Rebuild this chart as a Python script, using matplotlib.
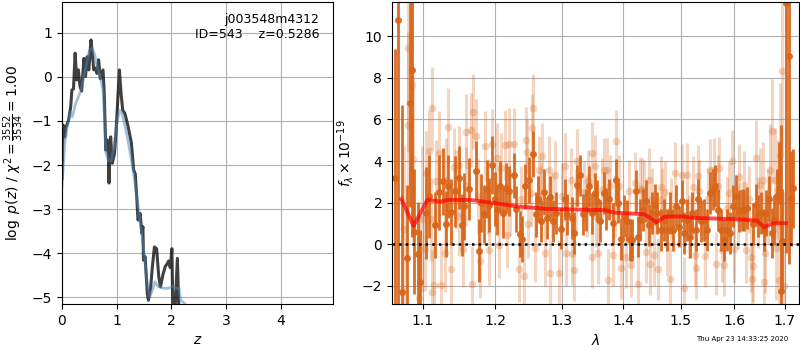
#!/usr/bin/env python3
# redshift fit summary: p(z) on the left, grism spectrum + model on the right
import time

import matplotlib
matplotlib.use("Agg")
import matplotlib.pyplot as plt
from matplotlib.ticker import FixedLocator, FixedFormatter, NullLocator

# ---------- p(z) ----------
z_fit = [0.0, 0.02, 0.05, 0.07, 0.12, 0.16, 0.18, 0.21, 0.24, 0.27, 0.30, 0.33, 0.36,
         0.40, 0.43, 0.46, 0.49, 0.53, 0.56, 0.58, 0.61, 0.64, 0.67, 0.70, 0.75, 0.77,
         0.79, 0.80, 0.83, 0.85, 0.86, 0.87, 0.89, 0.92, 0.96, 0.99, 1.05, 1.08, 1.11,
         1.15, 1.21, 1.27, 1.31, 1.34, 1.37, 1.39, 1.43, 1.46, 1.48, 1.49, 1.52, 1.56,
         1.58, 1.62, 1.65, 1.69, 1.73, 1.77, 1.80, 1.85, 1.89, 1.92, 1.95, 1.98, 2.01,
         2.03, 2.06, 2.11, 2.14]
logp_fit = [-2.3, -1.09, -1.36, -1.15, -0.98, -0.67, -0.30, -0.27, 0.54, -0.07, 0.16, -0.22,
            -0.32, 0.42, 0.01, 0.46, 0.16, 0.84, 0.46, 0.16, 0.20, 0.08, 0.39, -0.04, 0.16,
            -0.30, -1.13, -1.66, -1.43, -1.81, -2.41, -1.74, -1.36, -1.96, -1.74, -1.20,
            0.16, -0.37, -0.75, -0.83, -1.13, -1.51, -2.11, -2.20, -2.80, -3.25, -3.10,
            -3.55, -3.40, -4.16, -4.08, -4.92, -5.07, -4.80, -4.35, -3.86, -3.90, -4.54,
            -4.77, -4.47, -4.30, -4.25, -4.18, -4.33, -3.90, -5.4, -5.5, -4.12, -5.4]

z_prior = [0.0, 0.05, 0.10, 0.15, 0.19, 0.25, 0.30, 0.35, 0.40, 0.45, 0.50, 0.55, 0.60,
           0.65, 0.70, 0.75, 0.78, 0.80, 0.85, 0.90, 0.95, 1.00, 1.05, 1.10, 1.15, 1.20,
           1.30, 1.40, 1.50, 1.55, 1.60, 1.65, 1.70, 1.75, 1.86, 1.95, 2.02, 2.08, 2.14,
           2.17, 2.22, 2.28]
logp_prior = [-2.5, -1.5, -1.1, -0.8, -0.9, -0.6, -0.45, -0.3, 0.0, 0.3, 0.6, 0.65, 0.5,
              0.2, 0.0, -0.3, -1.0, -1.7, -1.9, -1.9, -1.6, -1.1, -0.75, -0.85, -1.1,
              -1.4, -2.1, -3.0, -4.0, -4.6, -5.0, -4.85, -4.65, -4.75, -4.8, -4.8, -4.75,
              -4.8, -4.8, -5.07, -5.12, -5.2]

# ---------- spectrum ----------
# light (low weight) beam
lam_lo = [1.0812, 1.0864, 1.0808, 1.0877, 1.0756, 1.1120, 1.1089, 1.1032, 1.1152, 1.1129,
          1.1241, 1.1210, 1.1301, 1.1345, 1.1377, 1.1422, 1.1489, 1.1548, 1.1588, 1.1658,
          1.1684, 1.1726, 1.1671, 1.1782, 1.1855, 1.1906, 1.1960, 1.2031, 1.2092, 1.2138,
          1.2201, 1.2274, 1.2053, 1.2178, 1.2346, 1.2424, 1.2447, 1.2471, 1.2567, 1.2551,
          1.2588, 1.2481, 1.2650, 1.2700, 1.2749, 1.2826, 1.2800, 1.2893, 1.2965, 1.3053,
          1.3061, 1.3159, 1.3143, 1.3201, 1.3236, 1.3350, 1.3419, 1.3482, 1.3525, 1.3480,
          1.3589, 1.3676, 1.3730, 1.3745, 1.3825, 1.3882, 1.3925, 1.3964, 1.4050, 1.4135,
          1.4191, 1.4252, 1.4293, 1.4350, 1.4381, 1.4437, 1.4449, 1.4524, 1.4598, 1.4642,
          1.4718, 1.4807, 1.4760, 1.4908, 1.5018, 1.5060, 1.5120, 1.5223, 1.5255, 1.5285,
          1.5321, 1.5445, 1.5545, 1.5610, 1.5653, 1.5716, 1.5762, 1.5811, 1.5860, 1.5950,
          1.6000, 1.6085, 1.6194, 1.6226, 1.6325, 1.6360, 1.6346, 1.6424, 1.6511, 1.6557,
          1.6577, 1.6610, 1.6704, 1.6744, 1.6804, 1.6824, 1.6892, 1.6912, 1.6953, 1.6981,
          1.3646, 1.3786, 1.3859, 1.4094, 1.4321, 1.4495, 1.4666, 1.4819, 1.5152, 1.5333,
          1.2222, 1.2376, 1.2527, 1.2677, 1.2856, 1.3012, 1.3221, 1.3405, 1.3544, 1.1040,
          1.1173, 1.1309, 1.1445, 1.1581, 1.1749, 1.1891, 1.1106, 1.1489, 1.5495, 1.5683,
          1.5905, 1.6065, 1.6291, 1.6458, 1.6658, 1.6858, 1.0950, 1.0990]
flux_lo = [9.42, 7.65, 5.71, 4.10, 0.74, 6.54, 4.47, -0.24, -1.97, -2.30,
           -1.97, 4.40, -0.40, 5.62, -1.20, 3.71, 3.79, -0.25, 5.41, 5.49,
           6.36, 5.20, -1.90, -0.80, 4.72, -0.28, 4.80, 4.15, 3.67, 4.77,
           4.84, 4.84, -0.03, 0.46, -1.19, -1.52, 4.99, 4.43, 6.57, 5.60,
           -0.20, 0.95, 3.59, 4.23, -0.43, -1.40, 3.59, 3.35, -1.40, 3.75,
           -0.43, -0.47, 3.11, -1.24, 4.02, 2.50, 3.03, 4.39, 3.75, -0.60,
           -0.40, 3.59, 3.59, -1.72, -0.52, 4.96, 2.79, -1.15, -0.60, -1.02,
           2.95, -1.92, 2.70, 2.55, -0.35, 3.11, -0.93, -0.53, -1.20, 2.75,
           2.50, -1.66, -0.03, 3.43, 3.31, -2.10, 3.35, 2.75, -0.53, -1.15,
           3.26, -0.57, 3.55, 3.59, -0.93, 3.67, -0.30, -1.00, 1.75, 3.99,
           -0.24, 3.23, 2.87, -0.27, -0.60, -1.07, -1.68, 4.15, 2.84, 3.11,
           -1.80, -0.43, 3.59, 5.44, 3.11, -0.20, -1.72, 4.23, 8.34, -2.00,
           2.63, 2.79, 1.83, 2.55, 2.63, 2.16, 2.16, 1.67, 0.85, 2.55,
           1.98, 2.16, 2.47, 2.31, 1.83, 2.31, 2.00, 1.83, 1.35, 3.43,
           3.03, 3.11, 2.63, 2.79, 2.31, 2.31, 1.19, 1.35, 2.16, 2.79,
           2.47, 1.35, 2.16, 1.51, 1.83, 2.63, -2.6, 1.2]
err_lo = [5.0, 4.5, 4.5, 4.0, 4.0, 2.0, 2.0, 2.0, 2.0, 2.0,
          2.0, 2.0, 1.9, 1.9, 1.9, 1.9, 1.9, 1.8, 1.8, 1.8,
          1.8, 1.8, 1.8, 1.8, 1.7, 1.7, 1.7, 1.7, 1.7, 1.7,
          1.7, 1.7, 1.6, 1.6, 1.6, 1.6, 1.6, 1.6, 1.6, 1.6,
          1.6, 1.6, 1.6, 1.6, 1.6, 1.6, 1.6, 1.6, 1.6, 1.6,
          1.6, 1.5, 1.5, 1.5, 1.5, 1.5, 1.5, 1.5, 1.5, 1.5,
          1.5, 1.5, 1.5, 1.5, 1.5, 1.5, 1.5, 1.5, 1.5, 1.5,
          1.5, 1.5, 1.5, 1.5, 1.5, 1.5, 1.5, 1.5, 1.5, 1.5,
          1.5, 1.5, 1.5, 1.5, 1.5, 1.5, 1.5, 1.5, 1.5, 1.5,
          1.5, 1.5, 1.5, 1.5, 1.5, 1.5, 1.5, 1.5, 1.5, 1.5,
          1.6, 1.6, 1.6, 1.6, 1.7, 1.7, 1.7, 1.8, 1.8, 1.8,
          1.8, 1.9, 2.2, 2.5, 2.5, 2.5, 3.0, 3.5, 4.0, 4.5,
          1.5, 1.5, 1.5, 1.5, 1.5, 1.5, 1.5, 1.5, 1.5, 1.5,
          1.6, 1.6, 1.6, 1.6, 1.6, 1.6, 1.6, 1.5, 1.5, 2.0,
          2.0, 2.0, 1.9, 1.9, 1.8, 1.8, 2.0, 1.9, 1.5, 1.5,
          1.5, 1.6, 1.6, 1.7, 1.8, 2.4, 4.0, 3.5]

# dark (best) beam
lam_hi = [1.0644, 1.0683, 1.0725, 1.0790, 1.0829, 1.0864, 1.0886, 1.0934, 1.0969, 1.1040,
          1.1076, 1.1165, 1.1220, 1.1264, 1.1309, 1.1336, 1.1377, 1.1438, 1.1483, 1.1529,
          1.1563, 1.1623, 1.1726, 1.1763, 1.1796, 1.1845, 1.1881, 1.1906, 1.1953, 1.2002,
          1.2031, 1.2065, 1.2113, 1.2163, 1.2201, 1.2274, 1.2310, 1.2364, 1.2389, 1.2439,
          1.2499, 1.2559, 1.2600, 1.2641, 1.2687, 1.2727, 1.2779, 1.2815, 1.2865, 1.2907,
          1.2985, 1.3053, 1.3091, 1.3159, 1.3201, 1.3249, 1.3286, 1.3339, 1.3382, 1.3435,
          1.3480, 1.3528, 1.3572, 1.3621, 1.3676, 1.3714, 1.3758, 1.3825, 1.3870, 1.3913,
          1.3964, 1.4009, 1.4065, 1.4110, 1.4150, 1.4218, 1.4252, 1.4293, 1.4339, 1.4381,
          1.4437, 1.4485, 1.4543, 1.4582, 1.4642, 1.4701, 1.4760, 1.4807, 1.4861, 1.4920,
          1.4970, 1.5018, 1.5066, 1.5120, 1.5164, 1.5211, 1.5274, 1.5321, 1.5372, 1.5421,
          1.5483, 1.5545, 1.5590, 1.5632, 1.5695, 1.5747, 1.5797, 1.5860, 1.5924, 1.5970,
          1.6033, 1.6097, 1.6144, 1.6194, 1.6248, 1.6360, 1.6424, 1.6470, 1.6524, 1.6577,
          1.6630, 1.6690, 1.6744, 1.6791, 1.6845, 1.6892, 1.6947, 1.6927, 1.7021, 1.7084,
          1.7125, 1.7174]
flux_hi = [3.20, 10.78, -2.29, -0.65, 6.78, 8.37, 0.61, -0.47, -1.80, 1.51,
           2.30, 0.93, 2.49, 3.02, 0.98, 2.78, 1.56, 2.54, 3.20, 0.93,
           1.82, 2.66, 3.54, -0.31, 2.00, 1.45, 2.67, 1.90, 3.80, 2.16,
           1.66, 2.78, 1.51, 2.70, 2.54, 3.31, 1.70, 0.50, 0.26, 2.78,
           3.10, 4.35, 1.43, 2.16, 1.11, 2.50, 1.27, 2.28, 1.11, 1.51,
           0.75, 2.16, 1.43, 1.27, 0.55, 2.83, 3.31, 1.43, 1.66, 2.78,
           1.48, 2.44, 2.07, 1.11, 2.47, 1.70, 2.16, 1.00, 3.10, 2.00,
           0.24, 1.35, 1.14, 0.21, 0.21, 2.55, 0.37, 1.17, 1.66, 2.07,
           0.93, 1.51, 1.91, 1.51, 0.69, 1.17, 0.69, 1.51, 0.69, 1.83,
           0.85, 2.07, 0.53, 1.17, 0.34, 1.51, 0.69, 2.16, 1.11, 1.17,
           0.69, 2.47, 2.63, 2.79, 1.66, 0.69, 0.21, 0.69, 0.53, 1.83,
           2.31, 1.59, 1.66, 1.66, 1.75, 0.98, 1.88, 1.35, 1.51, 0.69,
           1.51, 2.16, 0.53, 1.17, 2.31, 3.43, 0.14, -2.26, 11.60, 9.03,
           2.20, 2.70]
err_hi = [6.2, 14.0, 9.0, 3.5, 5.0, 8.0, 3.0, 2.5, 2.5, 2.2,
          2.0, 1.6, 1.8, 1.6, 1.6, 1.5, 1.6, 1.7, 1.5, 1.5,
          1.6, 1.5, 1.4, 1.5, 1.4, 1.4, 1.4, 1.3, 1.4, 1.3,
          1.2, 1.2, 1.2, 1.2, 1.2, 1.1, 1.1, 1.1, 1.1, 1.1,
          1.1, 1.1, 1.1, 1.1, 1.0, 1.1, 1.0, 1.0, 1.0, 1.0,
          1.0, 1.0, 1.0, 1.0, 1.0, 1.0, 1.0, 1.0, 1.0, 1.0,
          1.0, 1.0, 1.0, 1.0, 1.0, 1.0, 1.0, 1.0, 1.0, 1.0,
          1.0, 1.0, 1.0, 1.0, 1.0, 1.0, 1.0, 1.0, 1.0, 1.0,
          1.0, 1.0, 1.0, 1.0, 1.0, 1.0, 1.0, 1.0, 1.0, 1.0,
          1.0, 1.0, 1.0, 1.0, 1.0, 1.0, 1.0, 1.0, 1.0, 1.0,
          1.0, 1.0, 1.0, 1.0, 1.0, 1.0, 1.0, 1.0, 1.0, 1.0,
          1.0, 1.0, 1.0, 1.0, 1.0, 1.0, 1.0, 1.0, 1.0, 1.0,
          1.1, 1.1, 1.2, 1.2, 1.3, 1.5, 2.5, 8.0, 12.0, 10.0,
          2.3, 1.9]

lam_model = [1.072, 1.088, 1.106, 1.124, 1.133, 1.165, 1.199, 1.232, 1.276, 1.368,
             1.385, 1.436, 1.457, 1.471, 1.500, 1.531, 1.596, 1.644, 1.659, 1.677, 1.703]
flux_model = [2.17, 0.88, 2.13, 2.05, 2.13, 2.13, 1.98, 1.82, 1.70, 1.64,
              1.52, 1.44, 1.06, 1.32, 1.34, 1.26, 1.21, 1.14, 0.82, 1.01, 1.01]

wave_ticks = [1.1, 1.2, 1.3, 1.4, 1.5, 1.6, 1.7]

ORANGE = "#d8661a"

fig = plt.figure(figsize=(8, 3.5), dpi=100)

# ---------- left: p(z) ----------
axz = fig.add_axes([0.0775, 0.131, 0.339, 0.863])
axz.plot(z_fit, logp_fit, color="k", alpha=0.75, lw=2.2)
axz.plot(z_prior, logp_prior, color="steelblue", alpha=0.5, lw=2)
axz.set_xlim(0, 4.96)
axz.set_ylim(-5.16, 1.70)
axz.set_xticks([0, 1, 2, 3, 4])
axz.set_yticks([-5, -4, -3, -2, -1, 0, 1])
axz.grid()
axz.set_xlabel(r"$z$")
axz.set_ylabel(r"$\log\ p(z)$" + " / " + r"$\chi^2=\frac{3552}{3534}=1.00$")
axz.text(0.948, 0.965, "j003548m4312\nID=543    z=0.5286", transform=axz.transAxes,
         ha="right", va="top", fontsize=9)

# ---------- right: spectrum ----------
ax = fig.add_axes([0.49, 0.131, 0.509, 0.863])
ax.errorbar(lam_lo, flux_lo, yerr=err_lo, marker="o", ms=5.5, linestyle="None",
            color=ORANGE, alpha=0.27, elinewidth=2.2, mew=0)
ax.errorbar(lam_hi, flux_hi, yerr=err_hi, marker="o", ms=5, linestyle="None",
            color=ORANGE, alpha=0.95, elinewidth=2.0, mew=0)
ax.plot(lam_model, flux_model, color="r", alpha=0.7, lw=2.8, zorder=10)
ax.axhline(0, color="k", linestyle=":", lw=1.8, zorder=11)

ax.set_xscale("log")
ax.set_xlim(1.06, 1.73)
ax.set_ylim(-2.88, 11.64)
ax.xaxis.set_major_locator(FixedLocator(wave_ticks))
ax.xaxis.set_major_formatter(FixedFormatter([f"{w:.1f}" for w in wave_ticks]))
ax.xaxis.set_minor_locator(NullLocator())
ax.set_yticks([-2, 0, 2, 4, 6, 8, 10])
ax.grid()
ax.set_xlabel(r"$\lambda$")
ax.set_ylabel(r"$f_\lambda \times 10^{-19}$")

fig.text(0.985, 0.022, "Thu Apr 23 14:33:25 2020", ha="right", va="bottom", fontsize=5)

fig.savefig("out.png", dpi=100)
